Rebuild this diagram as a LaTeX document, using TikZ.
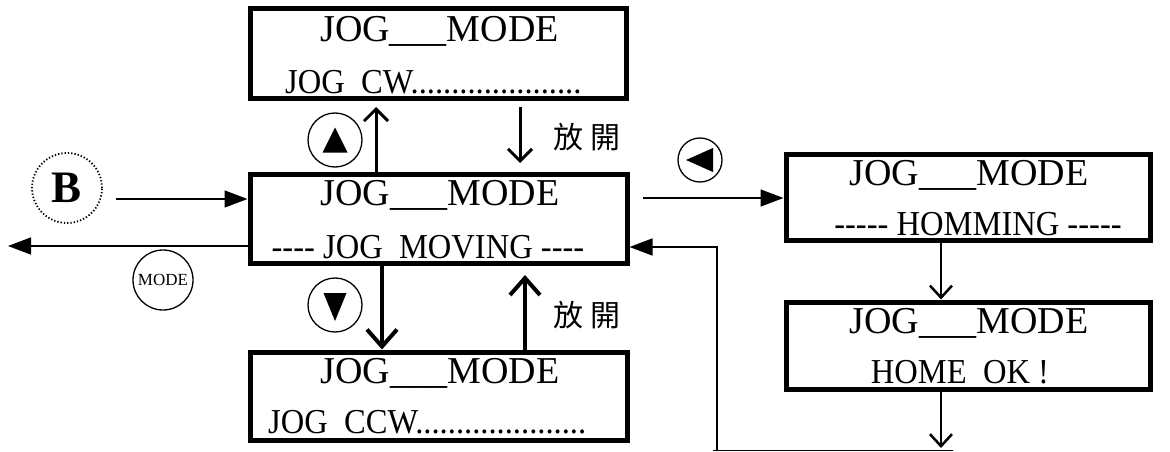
\documentclass[tikz,border=0pt]{standalone}
\usepackage{fontspec}
\setmainfont{Liberation Serif}[Ligatures=TeXOff]
\newfontfamily\narrowserif{Liberation Serif}[Ligatures=TeXOff,FakeStretch=0.93]
\newfontfamily\cjk{Noto Sans CJK TC}
\usetikzlibrary{arrows.meta,calc}
\begin{document}
\begin{tikzpicture}[x=1pt,y=-1pt,
  lcd/.style={draw,line width=5pt,inner sep=0pt,minimum height=89pt},
  lone/.style={font=\fontsize{38}{40}\selectfont,anchor=base,inner sep=0pt},
  ltwo/.style={font=\narrowserif\fontsize{35}{38}\selectfont,anchor=base,inner sep=0pt},
  key/.style={draw,circle,line width=1.3pt,inner sep=0pt},
  thin/.style={line width=1.6pt,-{Triangle[length=23pt,width=17pt]}},
  mid/.style={line width=3pt,-{Straight Barb[length=12pt,width=24pt]}},
  thick/.style={line width=4pt,-{Straight Barb[length=17pt,width=30pt]}},
  zh/.style={font=\cjk\fontsize{30}{32}\selectfont,inner sep=0pt}]
\useasboundingbox (0,0) rectangle (1170,452);
% LCD boxes
\node[lcd,minimum width=376pt] (top) at (438,53.5) {};
\node[lcd,minimum width=377pt] (midb) at (438.5,218.5) {};
\node[lcd,minimum width=377pt,minimum height=88pt] (bot) at (438.5,396) {};
\node[lcd,minimum width=364pt,minimum height=86pt] (hom) at (968,197) {};
\node[lcd,minimum width=364pt,minimum height=87pt] (ok) at (968,345.5) {};
% texts
\node[lone] (t1) at (439.5,42) {JOG\_\_\_MODE};
\node[ltwo,anchor=base west] (t2) at (285,93) {JOG\ \ CW.....................};
\node[lone] (m1) at (440,205) {JOG\_\_\_MODE};
\node[ltwo] (m2) at (428,258) {---- JOG\ \ MOVING ----};
\node[lone] (b1) at (440,383) {JOG\_\_\_MODE};
\node[ltwo,anchor=base west] (b2) at (268,433) {JOG\ \ CCW.....................};
\node[lone] (h1) at (969,185) {JOG\_\_\_MODE};
\node[ltwo] (h2) at (978,235) {----- HOMMING -----};
\node[lone] (o1) at (969,333) {JOG\_\_\_MODE};
\node[ltwo] (o2) at (960,383) {HOME\ \ OK !};
% key circles
\node[key,dotted,line width=1.8pt,minimum size=70pt,font=\fontsize{45}{45}\selectfont\bfseries] (B) at (67,188) {B};
\node[key,minimum size=60pt,font=\fontsize{17}{17}\selectfont] (mode) at (163,280) {MODE};
\node[key,minimum size=54pt] (up) at (335,140) {};
\node[key,minimum size=54pt] (down) at (335,305) {};
\node[key,minimum size=44pt] (left) at (700,160) {};
\fill ($(up.center)+(-12.5,12.5)$) -- ($(up.center)+(12.5,12.5)$) -- ($(up.center)+(0,-12.5)$) -- cycle;
\fill ($(down.center)+(-11.5,-12)$) -- ($(down.center)+(11.5,-12)$) -- ($(down.center)+(0,16)$) -- cycle;
\fill ($(left.center)+(-14,0)$) -- ($(left.center)+(13,-12)$) -- ($(left.center)+(13,12)$) -- cycle;
% release labels
\node[zh] (rel1) at (587,137) {放\hspace{8pt}開};
\node[zh] (rel2) at (587,315) {放\hspace{8pt}開};
% connectors
\coordinate (lend) at (8,246);
\draw[thin] ([xshift=13pt]B.east |- 0,199) -- (midb.west |- 0,199);
\draw[thin] (midb.west |- 0,246) -- (lend);
\draw[mid] (midb.north -| 376,0) -- (376,107);
\draw[mid] (520,107) -- (520,163);
\draw[thick] (midb.south -| 382,0) -- (bot.north -| 382,0);
\draw[thick] (bot.north -| 525,0) -- (525,275);
\draw[thin] (643,198) -- (hom.west |- 0,198);
\draw[line width=2.5pt,-{Straight Barb[length=12pt,width=22pt]}] (hom.south -| 941,0) -- (ok.north -| 941,0);
\coordinate (okend) at (941,448);
\draw[line width=2.5pt,-{Straight Barb[length=12pt,width=22pt]}] (ok.south -| 941,0) -- (okend);
\coordinate (r1) at (953,450.5);
\coordinate (r0) at (713,450.5);
\draw[line width=1.6pt] (r1) -- (r0);
\draw[thin] (717,450.5) -- (717,247) -- (midb.east |- 0,247);
\end{tikzpicture}
\end{document}
